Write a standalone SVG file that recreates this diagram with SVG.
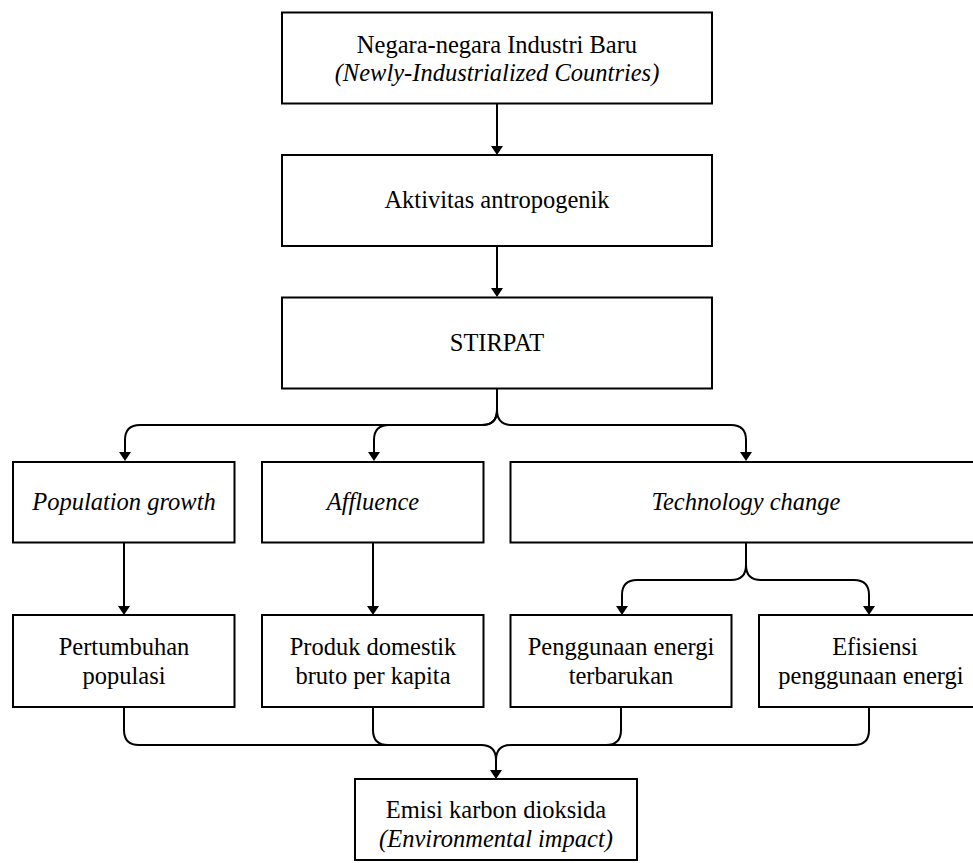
<svg xmlns="http://www.w3.org/2000/svg" width="973" height="863" viewBox="0 0 973 863">
<style>
.box{fill:#fff;stroke:#000;stroke-width:2}
.t{font-family:"Liberation Serif","Times New Roman",serif;font-size:24.5px;fill:#000;text-anchor:middle}
.i{font-style:italic}
.c{fill:none;stroke:#000;stroke-width:2}
</style>
<defs>
<marker id="ah" markerUnits="userSpaceOnUse" markerWidth="9" markerHeight="12" refX="7" refY="6" orient="auto" viewBox="0 0 9 12">
<path d="M0,0 L9,6 L0,12 z" fill="#000"/>
</marker>
</defs>
<rect width="973" height="863" fill="#fff"/>
<g id="connectors">
<path class="c" marker-end="url(#ah)" d="M497,103 V153"/>
<path class="c" marker-end="url(#ah)" d="M497,246 V295"/>
<path class="c" marker-end="url(#ah)" d="M497,388 V410 Q497,425 482,425 H140 Q125,425 125,440 V459"/>
<path class="c" marker-end="url(#ah)" d="M497,410 Q497,425 482,425 H389 Q374,425 374,440 V459"/>
<path class="c" marker-end="url(#ah)" d="M497,410 Q497,425 512,425 H731 Q746,425 746,440 V459"/>
<path class="c" marker-end="url(#ah)" d="M124,542 V613"/>
<path class="c" marker-end="url(#ah)" d="M373,542 V613"/>
<path class="c" marker-end="url(#ah)" d="M746,542 V565 Q746,580 731,580 H637 Q622,580 622,595 V613"/>
<path class="c" marker-end="url(#ah)" d="M746,565 Q746,580 761,580 H854 Q869,580 869,595 V613"/>
<path class="c" marker-end="url(#ah)" d="M124,707 V730 Q124,745 139,745 H481 Q496,745 496,760 V777"/>
<path class="c" d="M373,707 V730 Q373,745 388,745"/>
<path class="c" d="M621,707 V730 Q621,745 606,745"/>
<path class="c" d="M869,707 V730 Q869,745 854,745 H511 Q496,745 496,760"/>
</g>
<g id="n1">
<rect class="box" x="282" y="12.5" width="430" height="91"/>
<text class="t" x="497" y="53">Negara-negara Industri Baru</text>
<text class="t i" x="497" y="81">(Newly-Industrialized Countries)</text>
</g>
<g id="n2">
<rect class="box" x="282" y="155" width="430" height="91"/>
<text class="t" x="497" y="208">Aktivitas antropogenik</text>
</g>
<g id="n3">
<rect class="box" x="282" y="297.5" width="430" height="91"/>
<text class="t" x="497" y="351">STIRPAT</text>
</g>
<g id="n4">
<rect class="box" x="13" y="462" width="221.5" height="80.5"/>
<text class="t i" x="124" y="510">Population growth</text>
</g>
<g id="n5">
<rect class="box" x="262" y="462" width="221.5" height="80.5"/>
<text class="t i" x="373" y="510">Affluence</text>
</g>
<g id="n6">
<rect class="box" x="510.5" y="462" width="472" height="80.5"/>
<text class="t i" x="746" y="510">Technology change</text>
</g>
<g id="n7">
<rect class="box" x="13" y="615" width="221.5" height="92"/>
<text class="t" x="124" y="655">Pertumbuhan</text>
<text class="t" x="124" y="684">populasi</text>
</g>
<g id="n8">
<rect class="box" x="262" y="615" width="221.5" height="92"/>
<text class="t" x="373" y="655">Produk domestik</text>
<text class="t" x="373" y="684">bruto per kapita</text>
</g>
<g id="n9">
<rect class="box" x="510.5" y="615" width="221" height="92"/>
<text class="t" x="621" y="655">Penggunaan energi</text>
<text class="t" x="621" y="684">terbarukan</text>
</g>
<g id="n10">
<rect class="box" x="759" y="615" width="222" height="92"/>
<text class="t" x="875" y="655">Efisiensi</text>
<text class="t" x="871" y="684">penggunaan energi</text>
</g>
<g id="n11">
<rect class="box" x="355" y="779" width="282" height="81"/>
<text class="t" x="496" y="818">Emisi karbon dioksida</text>
<text class="t i" x="496" y="847">(Environmental impact)</text>
</g>
</svg>
